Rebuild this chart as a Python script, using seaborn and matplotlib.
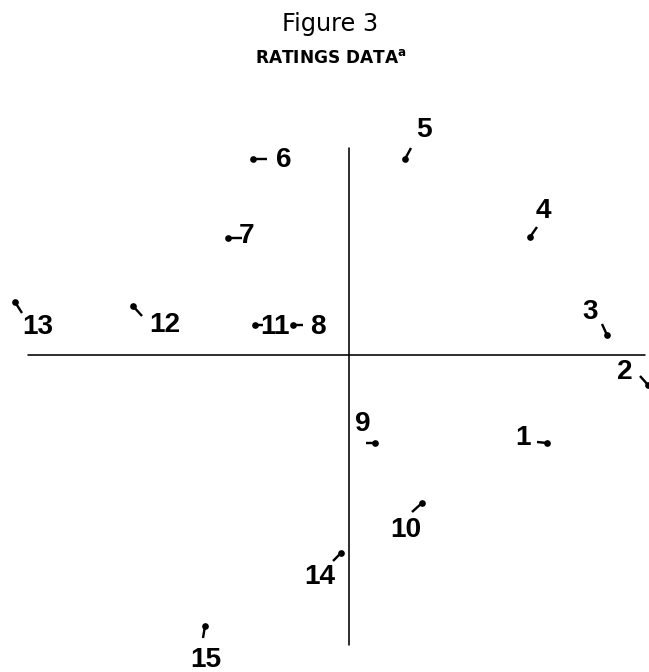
import matplotlib
matplotlib.use('Agg')
import matplotlib.pyplot as plt
import seaborn as sns
import pandas as pd

# stimulus numbers and their positions (dot) plus end of the shift line (tail)
labels = ['1', '2', '3', '4', '5', '6', '7', '8', '9', '10', '11', '12', '13', '14', '15']
dot_x = [1.98, 2.99, 2.58, 1.81, 0.56, -0.96, -1.21, -0.56, 0.26, 0.73, -0.94, -2.16, -3.34, -0.08, -1.44]
dot_y = [-0.88, -0.30, 0.20, 1.18, 1.96, 1.96, 1.17, 0.30, -0.88, -1.48, 0.30, 0.49, 0.53, -1.98, -2.71]
tail_x = [1.88, 2.91, 2.53, 1.88, 0.62, -0.82, -1.07, -0.46, 0.17, 0.63, -0.86, -2.07, -3.27, -0.16, -1.46]
tail_y = [-0.87, -0.21, 0.31, 1.28, 2.07, 1.96, 1.17, 0.30, -0.88, -1.57, 0.30, 0.39, 0.42, -2.06, -2.83]

# label offsets from the dot, in points
label_dx = [-24, -23, -17, 13, 19, 31, 19, 25, -12, -16, 20, 32, 23, -21, 1]
label_dy = [5, 13, 23, 26, 29, -1, 2, -2, 19, -27, -2, -19, -25, -24, -34]

df = pd.DataFrame({'x': dot_x, 'y': dot_y, 'label': labels})

sns.set_theme(style='white')
plt.rcParams['font.family'] = ['Liberation Sans', 'DejaVu Sans']
plt.rcParams['text.color'] = 'black'

fig = plt.figure(figsize=(649 / 72, 672 / 72), dpi=72)
ax = fig.add_axes([0, 0, 1, 1])

# reference axes
ax.plot([-3.21, 2.96], [0, 0], color='black', lw=1.6)
ax.plot([0, 0], [2.07, -2.90], color='black', lw=1.6)

for x0, y0, x1, y1 in zip(dot_x, dot_y, tail_x, tail_y):
    ax.plot([x0, x1], [y0, y1], color='black', lw=2.4, solid_capstyle='butt')

sns.scatterplot(data=df, x='x', y='y', ax=ax, color='black', s=45, edgecolor='black', linewidth=0, legend=False)

for lab, x, y, dx, dy in zip(labels, dot_x, dot_y, label_dx, label_dy):
    ax.annotate(lab, (x, y), xytext=(dx, dy), textcoords='offset points',
                ha='center', va='center', fontsize=28, fontweight='bold', color='black')

ax.set_xlim(-3.49, 3.00)
ax.set_ylim(-3.17, 3.55)
ax.axis('off')

fig.text(330 / 649, 1 - 24 / 672, 'Figure 3', ha='center', va='center', fontsize=24,
         family=['DejaVu Sans'], color='black')
fig.text(331 / 649, 1 - 58 / 672, 'RATINGS DATA$^{\\mathbf{a}}$', ha='center', va='center', fontsize=17,
         family=['DejaVu Sans'], fontweight='bold', color='black')

fig.savefig('out.png', dpi=72)
